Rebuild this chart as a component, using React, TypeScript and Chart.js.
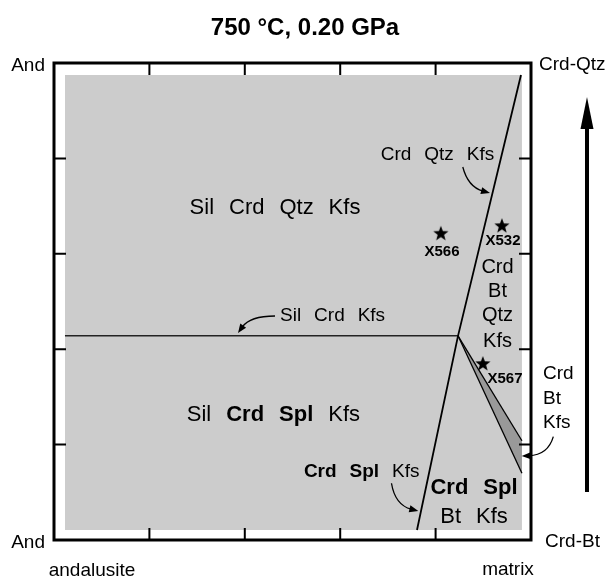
import React, { useEffect, useRef } from 'react';
import { Chart, registerables } from 'chart.js';

Chart.register(...registerables);

const FONT = '"Liberation Sans", Arial, Helvetica, sans-serif';

// ---- data (composition space, 0..1 on both axes) ----
const titleText = '750 °C, 0.20 GPa';
const tickValues = [0.2, 0.4, 0.6, 0.8];

const fieldX = [0.023, 0.981];
const fieldTop = 0.975;
const fieldBottom = 0.021;

const boundaryX = [0.979, 0.847, 0.761];
const boundaryY = [0.975, 0.428, 0.021];

const silLineX = [0.023, 0.847];
const silLineY = [0.428, 0.428];

const wedgeUpperX = [0.847, 0.981];
const wedgeUpperY = [0.428, 0.208];
const wedgeLowerX = [0.847, 0.981];
const wedgeLowerY = [0.428, 0.14];

const sampleNames = ['X566', 'X532', 'X567'];
const sampleX = [0.811, 0.939, 0.899];
const sampleY = [0.644, 0.66, 0.371];
const sampleLabelX = [0.8134, 0.9413, 0.9455];
const sampleLabelY = [0.604, 0.627, 0.3375];

// field labels: words [text, bold], centre x, centre y, font size
const fieldLabels: { w: [string, boolean][]; x: number; y: number; s: number }[] = [
  { w: [['Sil', false], ['Crd', false], ['Qtz', false], ['Kfs', false]], x: 0.4633, y: 0.696, s: 22 },
  { w: [['Crd', false], ['Qtz', false], ['Kfs', false]], x: 0.804, y: 0.807, s: 19 },
  { w: [['Sil', false], ['Crd', false], ['Kfs', false]], x: 0.584, y: 0.47, s: 19 },
  { w: [['Sil', false], ['Crd', true], ['Spl', true], ['Kfs', false]], x: 0.46, y: 0.262, s: 22 },
  { w: [['Crd', true], ['Spl', true], ['Kfs', false]], x: 0.645, y: 0.1426, s: 19 },
  { w: [['Crd', true], ['Spl', true]], x: 0.8805, y: 0.109, s: 22 },
  { w: [['Bt', false], ['Kfs', false]], x: 0.8805, y: 0.048, s: 22 },
];

const stackWords = ['Crd', 'Bt', 'Qtz', 'Kfs'];
const stackX = 0.9298;
const stackY = [0.572, 0.52, 0.47, 0.417];

const outerWords = ['Crd', 'Bt', 'Kfs'];
const outerX = 1.0252;
const outerY = [0.348, 0.296, 0.245];

const cornerTexts = ['And', 'And', 'Crd-Qtz', 'Crd-Bt', 'andalusite', 'matrix'];
const cornerX = [-0.0189, -0.0189, 1.0168, 1.0294, 0.0797, 0.9518];
const cornerY = [0.9937, -0.0063, 0.9958, -0.0042, -0.065, -0.063];
const cornerAlign: CanvasTextAlign[] = ['right', 'right', 'left', 'left', 'center', 'center'];

// curved pointers: start x,y ; control x,y ; end x,y
const pointerCurves = [
  [0.857, 0.782, 0.868, 0.74, 0.914, 0.7275],
  [0.4633, 0.4696, 0.411, 0.4696, 0.3857, 0.434],
  [0.7075, 0.119, 0.715, 0.0734, 0.7637, 0.0608],
  [1.0468, 0.2166, 1.0356, 0.178, 0.9805, 0.176],
];

const trendArrowX = 1.1174;
const trendArrowY = [0.1006, 0.9287];

function makeStar(r: number) {
  const c = document.createElement('canvas');
  const s = Math.ceil(r * 2) + 2;
  c.width = s;
  c.height = s;
  const ctx = c.getContext('2d')!;
  ctx.beginPath();
  for (let i = 0; i < 10; i++) {
    const a = -Math.PI / 2 + (i * Math.PI) / 5;
    const rad = i % 2 ? r * 0.42 : r;
    const px = s / 2 + rad * Math.cos(a);
    const py = s / 2 + 1 + rad * Math.sin(a);
    if (i === 0) ctx.moveTo(px, py);
    else ctx.lineTo(px, py);
  }
  ctx.closePath();
  ctx.fillStyle = '#000';
  ctx.fill();
  return c;
}

const zip = (xs: number[], ys: number[]) => xs.map((x, i) => ({ x, y: ys[i] }));

const overlay = {
  id: 'overlay',
  afterDatasetsDraw(chart: any) {
    const ctx: CanvasRenderingContext2D = chart.ctx;
    const sx = chart.scales.x;
    const sy = chart.scales.y;
    const X = (v: number) => sx.getPixelForValue(v);
    const Y = (v: number) => sy.getPixelForValue(v);
    ctx.save();
    ctx.fillStyle = '#000';
    ctx.strokeStyle = '#000';

    // frame
    const l = X(0), r = X(1), t = Y(1), b = Y(0);
    ctx.lineWidth = 3;
    ctx.strokeRect(l, t, r - l, b - t);
    // ticks (inward)
    ctx.lineWidth = 2;
    const tl = 12;
    ctx.beginPath();
    tickValues.forEach((v) => {
      const xp = X(v);
      ctx.moveTo(xp, b); ctx.lineTo(xp, b - tl);
      ctx.moveTo(xp, t); ctx.lineTo(xp, t + tl);
      const yp = Y(v);
      ctx.moveTo(l, yp); ctx.lineTo(l + tl, yp);
      ctx.moveTo(r, yp); ctx.lineTo(r - tl, yp);
    });
    ctx.stroke();

    ctx.textBaseline = 'middle';
    // field labels
    fieldLabels.forEach((lab) => {
      const gap = lab.s * 0.68;
      const widths = lab.w.map(([txt, bold]) => {
        ctx.font = `${bold ? 'bold ' : ''}${lab.s}px ${FONT}`;
        return ctx.measureText(txt).width;
      });
      const total = widths.reduce((a, c) => a + c, 0) + gap * (lab.w.length - 1);
      let x0 = X(lab.x) - total / 2;
      ctx.textAlign = 'left';
      lab.w.forEach(([txt, bold], i) => {
        ctx.font = `${bold ? 'bold ' : ''}${lab.s}px ${FONT}`;
        ctx.fillText(txt, x0, Y(lab.y));
        x0 += widths[i] + gap;
      });
    });

    ctx.font = `20px ${FONT}`;
    ctx.textAlign = 'center';
    stackWords.forEach((w, i) => ctx.fillText(w, X(stackX), Y(stackY[i])));

    ctx.font = `19px ${FONT}`;
    ctx.textAlign = 'left';
    outerWords.forEach((w, i) => ctx.fillText(w, X(outerX), Y(outerY[i])));

    cornerTexts.forEach((w, i) => {
      ctx.textAlign = cornerAlign[i];
      ctx.fillText(w, X(cornerX[i]), Y(cornerY[i]));
    });

    ctx.font = `bold 15px ${FONT}`;
    ctx.textAlign = 'center';
    sampleNames.forEach((n, i) => ctx.fillText(n, X(sampleLabelX[i]), Y(sampleLabelY[i])));

    // title
    ctx.font = `bold 24px ${FONT}`;
    ctx.textAlign = 'center';
    ctx.fillText(titleText, chart.width / 2, 28);

    // curved pointers
    ctx.lineWidth = 1.3;
    pointerCurves.forEach((p) => {
      const [ax, ay, cx, cy, ex, ey] = [X(p[0]), Y(p[1]), X(p[2]), Y(p[3]), X(p[4]), Y(p[5])];
      const ang = Math.atan2(ey - cy, ex - cx);
      const hl = 9, hw = 3.5;
      const bx = ex - hl * 0.8 * Math.cos(ang);
      const by = ey - hl * 0.8 * Math.sin(ang);
      ctx.beginPath();
      ctx.moveTo(ax, ay);
      ctx.quadraticCurveTo(cx, cy, bx, by);
      ctx.stroke();
      ctx.beginPath();
      ctx.moveTo(ex, ey);
      ctx.lineTo(ex - hl * Math.cos(ang) + hw * Math.sin(ang), ey - hl * Math.sin(ang) - hw * Math.cos(ang));
      ctx.lineTo(ex - hl * Math.cos(ang) - hw * Math.sin(ang), ey - hl * Math.sin(ang) + hw * Math.cos(ang));
      ctx.closePath();
      ctx.fill();
    });

    // trend arrow
    const ax = X(trendArrowX);
    const y0 = Y(trendArrowY[0]);
    const y1 = Y(trendArrowY[1]);
    ctx.lineWidth = 4;
    ctx.beginPath();
    ctx.moveTo(ax, y0);
    ctx.lineTo(ax, y1 + 25);
    ctx.stroke();
    ctx.beginPath();
    ctx.moveTo(ax, y1);
    ctx.lineTo(ax - 6.5, y1 + 32);
    ctx.lineTo(ax + 6.5, y1 + 32);
    ctx.closePath();
    ctx.fill();

    ctx.restore();
  },
};

export default function App() {
  const ref = useRef<HTMLCanvasElement>(null);
  useEffect(() => {
    const star = makeStar(8);
    const chart = new Chart(ref.current!, {
      type: 'line',
      data: {
        datasets: [
          {
            label: 'samples',
            data: zip(sampleX, sampleY),
            showLine: false,
            pointStyle: star as any,
            pointRadius: 8,
            order: 0,
          } as any,
          {
            label: 'boundary',
            data: zip(boundaryX, boundaryY),
            borderColor: '#000',
            borderWidth: 1.8,
            pointRadius: 0,
            fill: false,
            order: 1,
          },
          {
            label: 'sil',
            data: zip(silLineX, silLineY),
            borderColor: '#222',
            borderWidth: 1.5,
            pointRadius: 0,
            fill: false,
            order: 1,
          },
          {
            label: 'wedgeUpper',
            data: zip(wedgeUpperX, wedgeUpperY),
            borderColor: '#000',
            borderWidth: 1.3,
            pointRadius: 0,
            fill: false,
            order: 2,
          },
          {
            label: 'wedgeLower',
            data: zip(wedgeLowerX, wedgeLowerY),
            borderColor: '#000',
            borderWidth: 1.3,
            pointRadius: 0,
            fill: '-1',
            backgroundColor: '#999999',
            order: 2,
          },
          {
            label: 'field',
            data: zip(fieldX, [fieldTop, fieldTop]),
            borderWidth: 0,
            borderColor: 'rgba(0,0,0,0)',
            pointRadius: 0,
            fill: { value: fieldBottom },
            backgroundColor: '#cccccc',
            order: 10,
          },
        ],
      },
      options: {
        responsive: false,
        animation: false,
        layout: { padding: { left: 54, right: 79, top: 63, bottom: 42 } },
        scales: {
          x: { type: 'linear', min: 0, max: 1, display: false },
          y: { type: 'linear', min: 0, max: 1, display: false },
        },
        plugins: {
          legend: { display: false },
          title: { display: false },
          tooltip: { enabled: false },
        },
      },
      plugins: [overlay],
    });
    return () => chart.destroy();
  }, []);
  return (
    <div style={{ position: 'fixed', left: 0, top: 0, width: 610, height: 582, background: '#fff' }}>
      <canvas ref={ref} width={610} height={582} style={{ width: 610, height: 582 }} />
    </div>
  );
}
